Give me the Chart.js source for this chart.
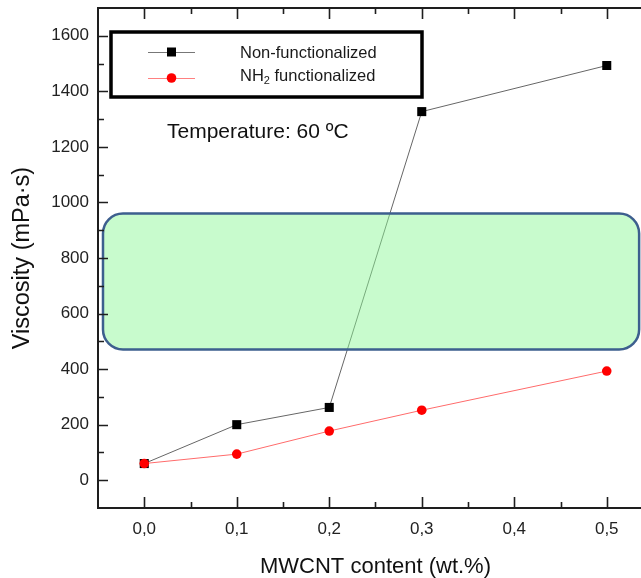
<!DOCTYPE html>
<html lang="en">
<head>
  <meta charset="UTF-8">
  <title>Viscosity vs MWCNT content</title>
  <style>
    html, body {
      margin: 0;
      padding: 0;
      background: #fff;
      overflow: hidden;
    }
    .chart-box {
      width: 660px;
      height: 578px;
    }
  </style>
  <script src="https://cdn.jsdelivr.net/npm/chart.js"></script>
</head>
<body>
  <div class="chart-box">
    <canvas id="viscChart"></canvas>
  </div>
  <script>
    // MWCNT content (wt.%) and viscosity (mPa·s) at 60 ºC
    const contents = [0, 0.1, 0.2, 0.3, 0.5];
    const nonFunctionalized = [60, 200, 262, 1327, 1493];
    const nh2Functionalized = [60, 94, 177, 252, 393];
    const xTicks = [0, 0.1, 0.2, 0.3, 0.4, 0.5];
    const yTicks = [0, 200, 400, 600, 800, 1000, 1200, 1400, 1600];

    // highlighted band (data units)
    const band = { x0: -0.0446, x1: 0.535, y0: 471, y1: 960 };

    const FONT = "'Liberation Sans', Arial, sans-serif";
    const AXIS = '#1e1e1e';

    const toPoints = vals => vals.map((v, i) => ({ x: contents[i], y: v }));

    const noPad = s => { s.paddingTop = 0; s.paddingBottom = 0; s.paddingLeft = 0; s.paddingRight = 0; };

    // frame, inward ticks, band, legend box and note
    const decorations = {
      id: 'decorations',
      afterDatasetsDraw(chart) {
        const { ctx, scales: { x, y } } = chart;
        const bx0 = x.getPixelForValue(band.x0), bx1 = x.getPixelForValue(band.x1);
        const by0 = y.getPixelForValue(band.y1), by1 = y.getPixelForValue(band.y0);
        ctx.save();
        ctx.beginPath();
        ctx.roundRect(bx0, by0, bx1 - bx0, by1 - by0, 20);
        ctx.fillStyle = 'rgba(140, 246, 150, 0.48)';
        ctx.fill();
        ctx.lineWidth = 2.5;
        ctx.strokeStyle = '#3d5f8e';
        ctx.stroke();
        ctx.restore();
      },
      afterDraw(chart) {
        const { ctx, chartArea: a, scales: { x, y } } = chart;
        ctx.save();
        ctx.strokeStyle = AXIS;
        ctx.lineWidth = 2;
        ctx.lineCap = 'square';
        ctx.beginPath();
        ctx.moveTo(a.left, a.top);
        ctx.lineTo(a.right, a.top);
        ctx.lineTo(a.right, a.bottom);
        ctx.lineTo(a.left, a.bottom);
        ctx.closePath();
        ctx.stroke();

        ctx.lineCap = 'butt';
        ctx.lineWidth = 1.6;
        for (let i = 0; i <= 10; i++) {
          const px = Math.round(x.getPixelForValue(i * 0.05)) + 0.5;
          const len = i % 2 === 0 ? 11 : 6;
          ctx.beginPath();
          ctx.moveTo(px, a.bottom);
          ctx.lineTo(px, a.bottom - len);
          ctx.moveTo(px, a.top);
          ctx.lineTo(px, a.top + len);
          ctx.stroke();
        }
        for (let i = 0; i <= 16; i++) {
          const py = Math.round(y.getPixelForValue(i * 100)) + 0.5;
          const len = i % 2 === 0 ? 10 : 6;
          ctx.beginPath();
          ctx.moveTo(a.left, py);
          ctx.lineTo(a.left + len, py);
          ctx.moveTo(a.right, py);
          ctx.lineTo(a.right - len, py);
          ctx.stroke();
        }

        // legend box
        ctx.lineWidth = 3.5;
        ctx.strokeStyle = '#000';
        ctx.strokeRect(111, 32, 311, 65);

        const rows = [
          { yy: 52, line: '#777', fill: '#000', shape: 'rect' },
          { yy: 78, line: '#ff8080', fill: '#ff0000', shape: 'circle' }
        ];
        rows.forEach(r => {
          ctx.lineWidth = 1;
          ctx.strokeStyle = r.line;
          ctx.beginPath();
          ctx.moveTo(148, r.yy + 0.5);
          ctx.lineTo(195, r.yy + 0.5);
          ctx.stroke();
          ctx.fillStyle = r.fill;
          ctx.beginPath();
          if (r.shape === 'rect') ctx.rect(167, r.yy - 4.5, 9, 9);
          else ctx.arc(171.5, r.yy, 4.8, 0, Math.PI * 2);
          ctx.fill();
        });

        ctx.fillStyle = '#1a1a1a';
        ctx.textBaseline = 'middle';
        ctx.textAlign = 'left';
        ctx.font = `16.5px ${FONT}`;
        ctx.fillText('Non-functionalized', 240, 53);
        let tx = 240;
        ctx.fillText('NH', tx, 76);
        tx += ctx.measureText('NH').width;
        ctx.font = `11px ${FONT}`;
        ctx.fillText('2', tx, 81);
        tx += ctx.measureText('2').width;
        ctx.font = `16.5px ${FONT}`;
        ctx.fillText(' functionalized', tx, 76);

        ctx.font = `21px ${FONT}`;
        ctx.fillStyle = '#111';
        ctx.fillText('Temperature: 60 ºC', 167, 132);
        ctx.restore();
      }
    };

    const ctx = document.getElementById('viscChart').getContext('2d');
    new Chart(ctx, {
      type: 'scatter',
      data: {
        datasets: [
          {
            label: 'Non-functionalized',
            data: toPoints(nonFunctionalized),
            showLine: true,
            borderColor: '#666',
            borderWidth: 1,
            pointStyle: 'rect',
            pointRadius: 6.4,
            pointBackgroundColor: '#000',
            pointBorderColor: '#000',
            pointBorderWidth: 0,
            order: 2
          },
          {
            label: 'NH2 functionalized',
            data: toPoints(nh2Functionalized),
            showLine: true,
            borderColor: '#ff6b6b',
            borderWidth: 1,
            pointStyle: 'circle',
            pointRadius: 4.8,
            pointBackgroundColor: '#ff0000',
            pointBorderColor: '#ff0000',
            pointBorderWidth: 0,
            order: 1
          }
        ]
      },
      options: {
        responsive: true,
        maintainAspectRatio: false,
        animation: false,
        layout: { padding: { top: 8, right: 7, left: 0, bottom: 0 } },
        plugins: {
          legend: { display: false },
          tooltip: { enabled: false }
        },
        scales: {
          x: {
            type: 'linear',
            min: -0.05,
            max: 0.55,
            afterBuildTicks: s => { s.ticks = xTicks.map(v => ({ value: v })); },
            afterFit: s => { s.height = 70; noPad(s); },
            grid: { display: false, drawTicks: false },
            border: { display: false },
            ticks: {
              padding: 11,
              color: '#222',
              font: { family: FONT, size: 17 },
              callback: v => v.toFixed(1).replace('.', ',')
            },
            title: {
              display: true,
              text: 'MWCNT content (wt.%)',
              color: '#111',
              font: { family: FONT, size: 22, lineHeight: 1 },
              padding: { top: 0, bottom: 0 }
            }
          },
          y: {
            min: -100,
            max: 1700,
            afterBuildTicks: s => { s.ticks = yTicks.map(v => ({ value: v })); },
            afterFit: s => { s.width = 98; noPad(s); },
            grid: { display: false, drawTicks: false },
            border: { display: false },
            ticks: {
              padding: 9,
              color: '#222',
              font: { family: FONT, size: 17 },
              callback: v => String(v)
            },
            title: {
              display: true,
              text: 'Viscosity (mPa·s)',
              color: '#111',
              font: { family: FONT, size: 23.5, lineHeight: 1 },
              padding: { top: 11, bottom: 0 }
            }
          }
        }
      },
      plugins: [decorations]
    });
  </script>
</body>
</html>
